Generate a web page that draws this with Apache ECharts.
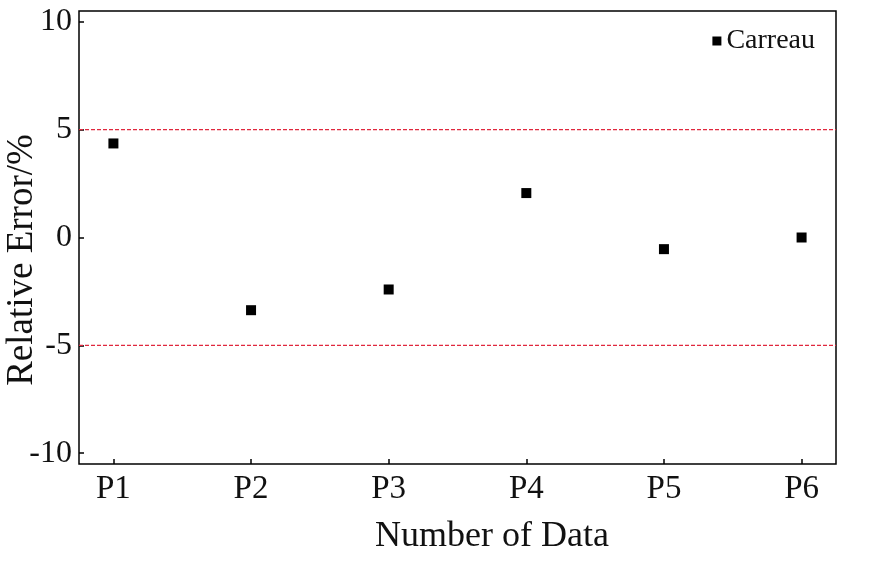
<!DOCTYPE html>
<html>
<head>
<meta charset="utf-8">
<script src="https://cdn.jsdelivr.net/npm/echarts@6/dist/echarts.min.js"></script>
<style>html,body{margin:0;padding:0;background:#fff;}#c{width:887px;height:577px;}</style>
</head>
<body>
<div id="c"></div>
<script>
var categories = ['P1', 'P2', 'P3', 'P4', 'P5', 'P6'];
var carreau = [4.36, -3.37, -2.41, 2.06, -0.54, 0.0];
var yTicks = [-10, -5, 0, 5, 10];
var limits = [5, -5];
var xName = 'Number of Data';
var yName = 'Relative Error/%';

var FONT = 'Liberation Serif, Times New Roman, serif';
var chart = echarts.init(document.getElementById('c'));
var xTicks = categories.map(function (c, i) { return i + 1; });
var pts = carreau.map(function (v, i) { return [i + 1, v]; });
var X_MIN = 0.75, X_MAX = categories.length + 0.25;
var RED = '#e0283e';

var limitSeries = limits.map(function (v, i) {
  return {
    name: 'limit' + i, type: 'line', silent: true, symbol: 'none',
    lineStyle: { color: RED, type: [4, 2], width: 1.4 },
    itemStyle: { color: RED },
    data: [[X_MIN, v], [X_MAX, v]], z: 1
  };
});

chart.setOption({
  backgroundColor: '#fff',
  animation: false,
  grid: { left: 79, right: 51, top: 11, bottom: 113, show: true, borderColor: '#000', borderWidth: 1.5, backgroundColor: 'transparent' },
  legend: {
    right: 67, top: 22, icon: 'rect', itemWidth: 9, itemHeight: 9, itemGap: 4,
    itemStyle: { opacity: 1, color: '#000' },
    textStyle: { fontFamily: FONT, fontSize: 28, color: '#111' },
    data: ['Carreau']
  },
  xAxis: {
    type: 'value', min: X_MIN, max: X_MAX,
    axisLine: { show: false, onZero: false },
    splitLine: { show: false },
    axisTick: { show: true, inside: true, length: 5, customValues: xTicks, lineStyle: { color: '#000', width: 1.5 } },
    axisLabel: { customValues: xTicks, margin: 9, fontFamily: FONT, fontSize: 33, color: '#111',
      formatter: function (v) { return categories[Math.round(v) - 1] || ''; } }
  },
  yAxis: {
    type: 'value', min: -10.5, max: 10.5,
    axisLine: { show: false, onZero: false },
    splitLine: { show: false },
    axisTick: { show: true, inside: true, length: 5, customValues: yTicks, lineStyle: { color: '#000', width: 1.5 } },
    axisLabel: { customValues: yTicks, margin: 7, fontFamily: FONT, fontSize: 32, color: '#111' }
  },
  graphic: [
    { type: 'text', x: 492, y: 537, style: { text: xName, fontFamily: FONT, fontSize: 36, fill: '#111', align: 'center', verticalAlign: 'middle' } },
    { type: 'text', x: 22, y: 260, rotation: Math.PI / 2, style: { text: yName, fontFamily: FONT, fontSize: 37, fill: '#111', align: 'center', verticalAlign: 'middle' } }
  ],
  series: limitSeries.concat([{
    name: 'Carreau', type: 'scatter', symbol: 'rect', symbolSize: 10,
    itemStyle: { color: '#000', opacity: 1 },
    data: pts, z: 3
  }])
});
</script>
</body>
</html>
